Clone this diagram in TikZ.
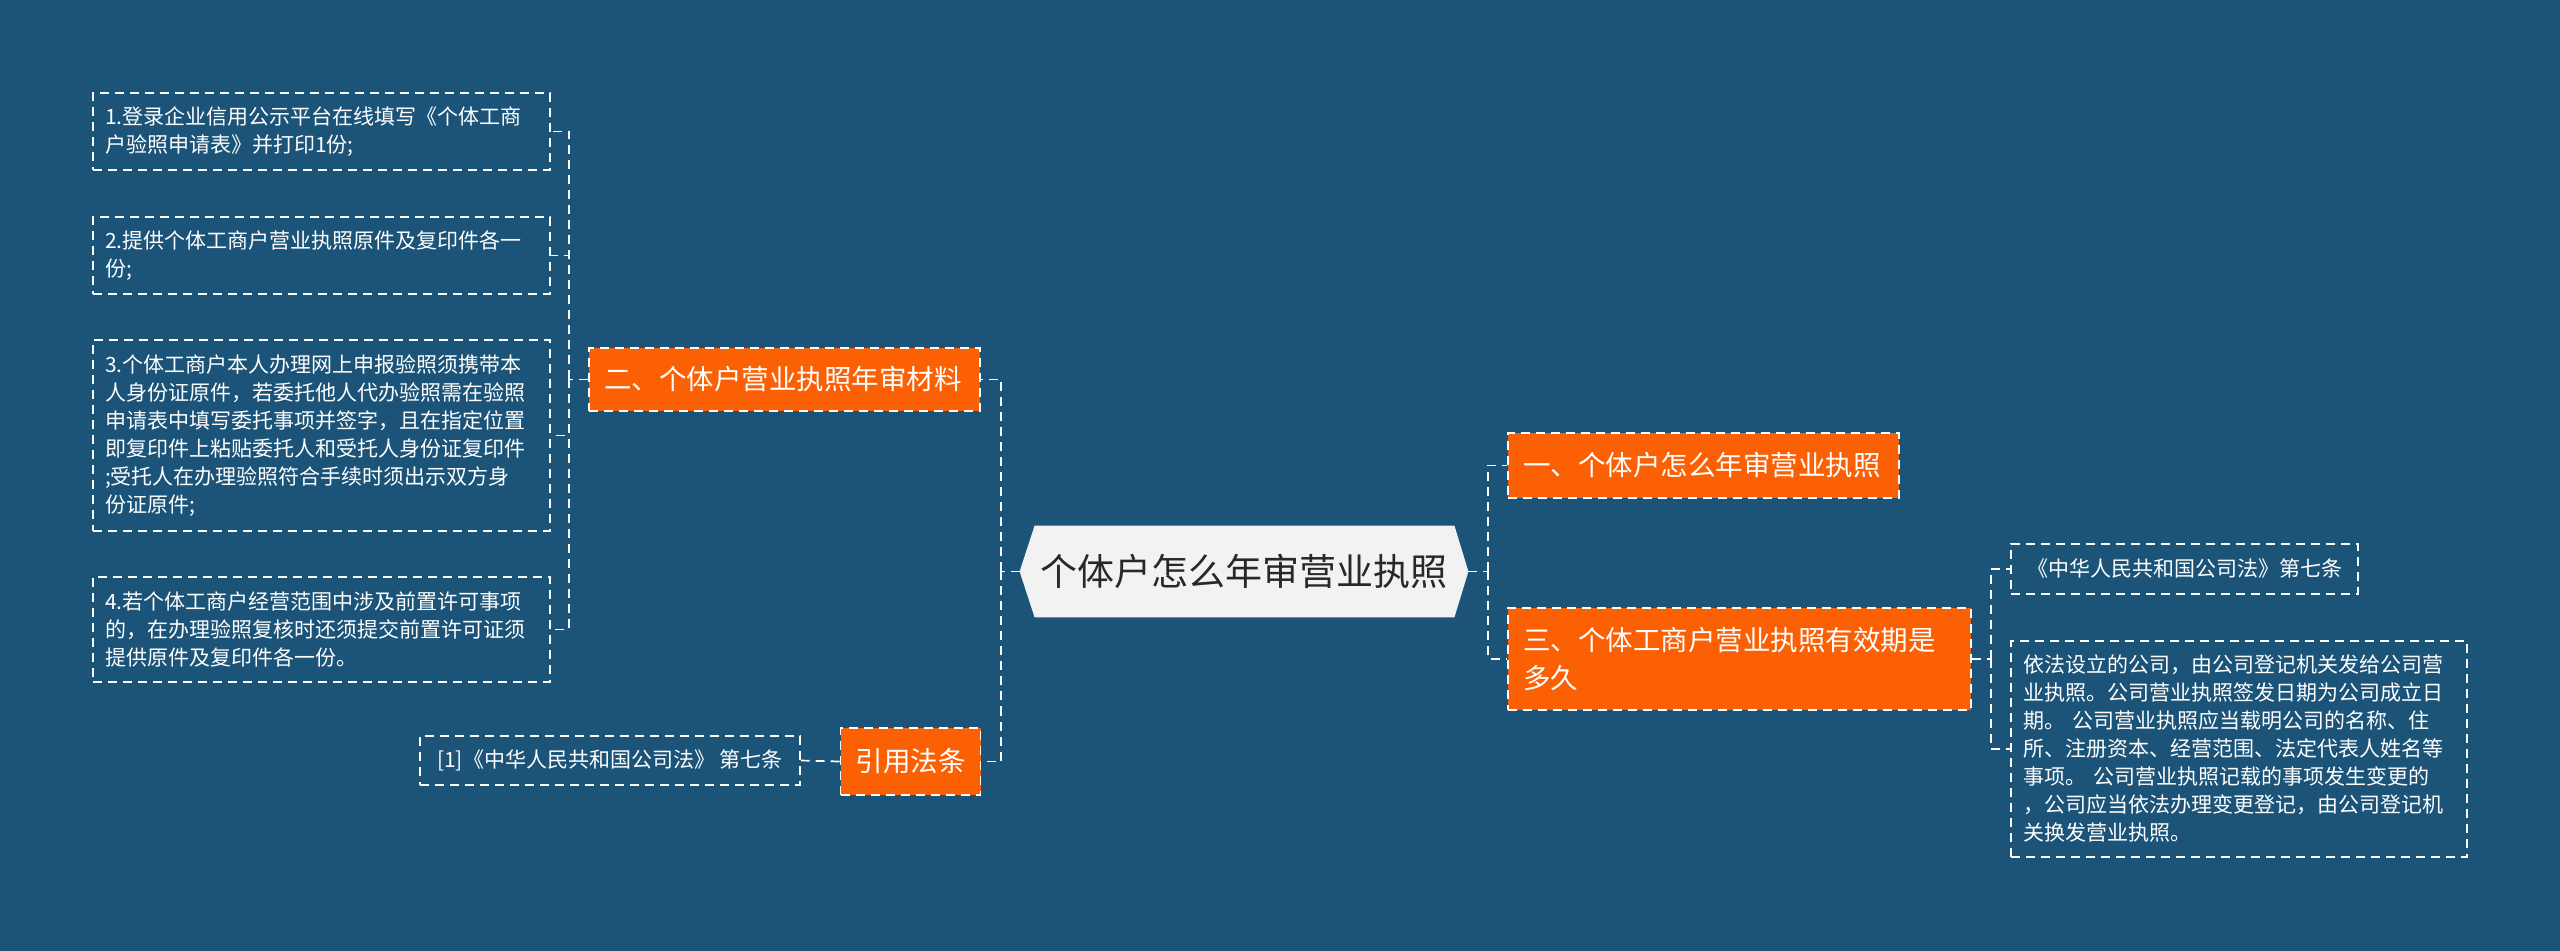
\documentclass[tikz,border=0pt]{standalone}
\usepackage{fontspec}
\newfontfamily\cjk{Noto Sans CJK SC}
\usetikzlibrary{backgrounds}
\definecolor{bgblue}{RGB}{27,84,120}
\definecolor{orng}{RGB}{252,96,4}
\definecolor{rootfill}{RGB}{242,242,242}
\definecolor{roottext}{RGB}{40,40,40}
\begin{document}
\begin{tikzpicture}[x=0.5pt,y=-0.5pt,
 dsh/.style={draw=white, line width=0.85pt, dash pattern=on 4.5pt off 3pt},
 conn/.style={dsh},
 leaf/.style={dsh, text=white, align=left, inner xsep=6pt, inner ysep=0pt, font=\cjk\fontsize{10.5pt}{14pt}\selectfont},
 leafc/.style={dsh, text=white, align=center, inner xsep=6pt, inner ysep=0pt, font=\cjk\fontsize{10.5pt}{14pt}\selectfont},
 branch/.style={dsh, fill=orng, text=white, align=left, inner xsep=7.5pt, inner ysep=0pt, font=\cjk\fontsize{13.75pt}{19pt}\selectfont},
 branchc/.style={dsh, fill=orng, text=white, align=center, inner xsep=7.5pt, inner ysep=0pt, font=\cjk\fontsize{13.75pt}{19pt}\selectfont},
 rootnode/.style={text=roottext, align=center, inner sep=0pt, font=\cjk\fontsize{18.5pt}{22pt}\selectfont},
]
\begin{pgfonlayer}{background}
\fill[bgblue] (0,0) rectangle (2560,951);
\end{pgfonlayer}
\useasboundingbox (0,0) rectangle (2560,951);

% root
\node[rootnode, minimum width=224pt, minimum height=45.5pt] (root) at (1244,571.5) {个体户怎么年审营业执照};
\begin{pgfonlayer}{background}
\fill[rootfill] (root.west) -- ([xshift=7.5pt]root.north west) -- ([xshift=-7pt]root.north east) -- (root.east) -- ([xshift=-7pt]root.south east) -- ([xshift=7.5pt]root.south west) -- cycle;
\end{pgfonlayer}

% branches
\node[branch, text width=180.5pt, minimum height=31.5pt] (b2) at (784.5,379.5) {二、个体户营业执照年审材料};
\node[branchc, minimum width=69.5pt, minimum height=33.5pt] (yin) at (910.5,761.5) {引用法条};
\node[branch, text width=180.5pt, minimum height=32.5pt] (b1) at (1703.5,465.5) {一、个体户怎么年审营业执照};
\node[branch, text width=216.5pt, minimum height=51pt] (b3) at (1739.5,659) {三、个体工商户营业执照有效期是\\多久};

% left leaves
\node[leaf, text width=216.5pt, minimum height=38.5pt] (l1) at (321.5,131.5) {1.登录企业信用公示平台在线填写《个体工商\\户验照申请表》并打印1份;};
\node[leaf, text width=216.5pt, minimum height=38.5pt] (l2) at (321.5,255.5) {2.提供个体工商户营业执照原件及复印件各一\\份;};
\node[leaf, text width=216.5pt, minimum height=95.5pt] (l3) at (321.5,435.5) {3.个体工商户本人办理网上申报验照须携带本\\人身份证原件，若委托他人代办验照需在验照\\申请表中填写委托事项并签字，且在指定位置\\即复印件上粘贴委托人和受托人身份证复印件\\;受托人在办理验照符合手续时须出示双方身\\份证原件;};
\node[leaf, text width=216.5pt, minimum height=52.5pt] (l4) at (321.5,629.5) {4.若个体工商户经营范围中涉及前置许可事项\\的，在办理验照复核时还须提交前置许可证须\\提供原件及复印件各一份。};
\node[leafc, minimum width=190pt, minimum height=24.5pt] (ref) at (610,760.5) {[1]《中华人民共和国公司法》 第七条};

% right leaves
\node[leafc, minimum width=173.5pt, minimum height=25pt] (r1) at (2184.5,569) {《中华人民共和国公司法》第七条};
\node[leaf, text width=216pt, minimum height=108pt] (r2) at (2239,749) {依法设立的公司，由公司登记机关发给公司营\\业执照。公司营业执照签发日期为公司成立日\\期。 公司营业执照应当载明公司的名称、住\\所、注册资本、经营范围、法定代表人姓名等\\事项。 公司营业执照记载的事项发生变更的\\，公司应当依法办理变更登记，由公司登记机\\关换发营业执照。};

% connectors
\coordinate (hl) at (1001,571.5);
\draw[conn] (root.west) -- (hl);
\draw[conn] (hl) |- (b2.east);
\draw[conn] (hl) |- (yin.east);
\coordinate (hr) at (1488,571.5);
\draw[conn] (root.east) -- (hr);
\draw[conn] (hr) |- (b1.west);
\draw[conn] (hr) |- (b3.west);
\coordinate (hll) at (569,379.5);
\draw[conn] (b2.west) -- (hll);
\foreach \n in {l1,l2,l3,l4} {\draw[conn] (hll) |- (\n.east);}
\draw[conn] (yin.west) -- (ref.east);
\coordinate (hrr) at (1991,659);
\draw[conn] (b3.east) -- (hrr);
\draw[conn] (hrr) |- (r1.west);
\draw[conn] (hrr) |- (r2.west);
\end{tikzpicture}
\end{document}
